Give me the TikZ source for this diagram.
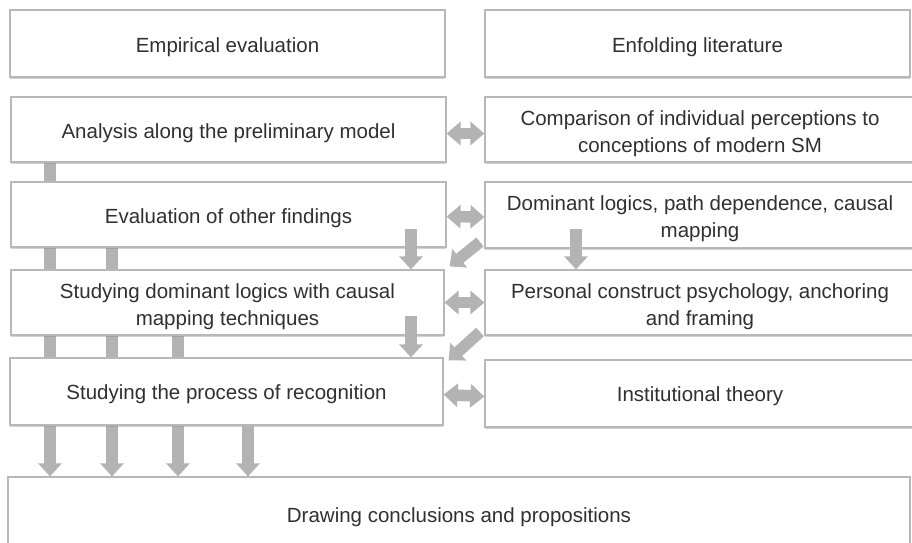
\documentclass[tikz,border=0pt]{standalone}
\usepackage{fontspec}
\setmainfont{Liberation Sans}
\usetikzlibrary{arrows.meta,shadows,calc}
\pgfdeclarelayer{paper}
\pgfdeclarelayer{background}
\pgfsetlayers{paper,background,main}
\definecolor{boxline}{HTML}{B8B8B8}
\definecolor{arrowgray}{HTML}{B3B3B3}
\definecolor{txt}{HTML}{303030}
\tikzset{
  box/.style={draw=boxline, line width=1.2pt, fill=white, rectangle, inner sep=0pt,
    drop shadow={shadow xshift=0pt, shadow yshift=-1.6pt, opacity=0.35, fill=gray}},
  lbl/.style={inner sep=0pt, align=center, text=txt,
    font=\fontsize{20.5}{27}\selectfont},
  fat/.style={draw=arrowgray, line width=11.5pt,
    -{Triangle[width=23pt,length=13pt]}},
  fatdbl/.style={draw=arrowgray, line width=11.5pt,
    {Triangle[width=23pt,length=14pt]}-{Triangle[width=23pt,length=14pt]}}
}
\begin{document}
\begin{tikzpicture}[x=1pt,y=-1pt]
\useasboundingbox (0,0) rectangle (912,542);
\clip (0,0) rectangle (912,542);
\begin{pgfonlayer}{paper}
  \fill[white] (0,0) rectangle (912,542);
\end{pgfonlayer}
% left column
\node[box, minimum width=435pt, minimum height=67pt] (emp) at (227.5,43.5) {};
\node[box, minimum width=435pt, minimum height=65pt] (ana) at (228.5,129.5) {};
\node[box, minimum width=435pt, minimum height=65pt] (eva) at (228.5,214.5) {};
\node[box, minimum width=433pt, minimum height=65pt] (sdl) at (227.5,302.5) {};
\node[box, minimum width=433pt, minimum height=67pt] (spr) at (226.5,391.5) {};
% right column
\node[box, minimum width=425pt, minimum height=67pt] (enf) at (697.5,43.5) {};
\node[box, minimum width=430pt, minimum height=65pt] (cmp) at (700,129.5) {};
\node[box, minimum width=430pt, minimum height=66pt] (dom) at (700,215) {};
\node[box, minimum width=430pt, minimum height=65pt] (pcp) at (700,302.5) {};
\node[box, minimum width=430pt, minimum height=67pt] (ins) at (700,393.5) {};
% conclusions
\node[box, minimum width=902pt, minimum height=74pt] (con) at (459,514) {};
% texts
\node[lbl] (emp-t) at ([yshift=-4pt]emp.center) {Empirical evaluation};
\node[lbl] (ana-t) at ([yshift=-4pt]ana.center) {Analysis along the preliminary model};
\node[lbl] (eva-t) at ([yshift=-4pt]eva.center) {Evaluation of other findings};
\node[lbl] (sdl-t) at ([yshift=-4pt]sdl.center) {Studying dominant logics with causal\\mapping techniques};
\node[lbl] (spr-t) at ([yshift=-3pt]spr.center) {Studying the process of recognition};
\node[lbl] (enf-t) at ([yshift=-4pt]enf.center) {Enfolding literature};
\node[lbl] (cmp-t) at ([yshift=-4pt]cmp.center) {Comparison of individual perceptions to\\conceptions of modern SM};
\node[lbl] (dom-t) at ([yshift=-4pt]dom.center) {Dominant logics, path dependence, causal\\mapping};
\node[lbl] (pcp-t) at ([yshift=-4pt]pcp.center) {Personal construct psychology, anchoring\\and framing};
\node[lbl] (ins-t) at ([yshift=-3pt]ins.center) {Institutional theory};
\node[lbl] (con-t) at ([yshift=-3pt]con.center) {Drawing conclusions and propositions};
% helper coordinates
\coordinate (a1) at (50,0);
\coordinate (a2) at (112,0);
\coordinate (a3) at (178,0);
\coordinate (a4) at (248,0);
\coordinate (s1) at (411,229);
\coordinate (s2) at (411,316);
\coordinate (s3) at (576,229);
\coordinate (d1) at (480,242);
\coordinate (d2) at (480,332);
\begin{pgfonlayer}{background}
  \draw[fat] (ana.south -| a1) -- (con.north -| a1);
  \draw[fat] (eva.south -| a2) -- (con.north -| a2);
  \draw[fat] (sdl.south -| a3) -- (con.north -| a3);
\end{pgfonlayer}
\draw[fat] (spr.south -| a4) -- (con.north -| a4);
% short vertical arrows
\draw[fat] (s1) -- (s1 |- sdl.north);
\draw[fat] (s2) -- (s2 |- spr.north);
\draw[fat] (s3) -- (s3 |- pcp.north);
% diagonal arrows
\draw[fat] (d1) -- ([shift={(5,-3)}]sdl.north east);
\draw[fat] (d2) -- ([shift={(5,3)}]spr.north east);
% double arrows
\draw[fatdbl] ([yshift=-4pt]ana.east) -- ([yshift=-4pt]cmp.west);
\draw[fatdbl] ([yshift=-2pt]eva.east) -- ([yshift=-2pt]dom.west);
\draw[fatdbl] ([yshift=0pt]sdl.east) -- ([yshift=0pt]pcp.west);
\draw[fatdbl] ([yshift=-3pt]spr.east) -- ([yshift=-3pt]ins.west);
\end{tikzpicture}
\end{document}
